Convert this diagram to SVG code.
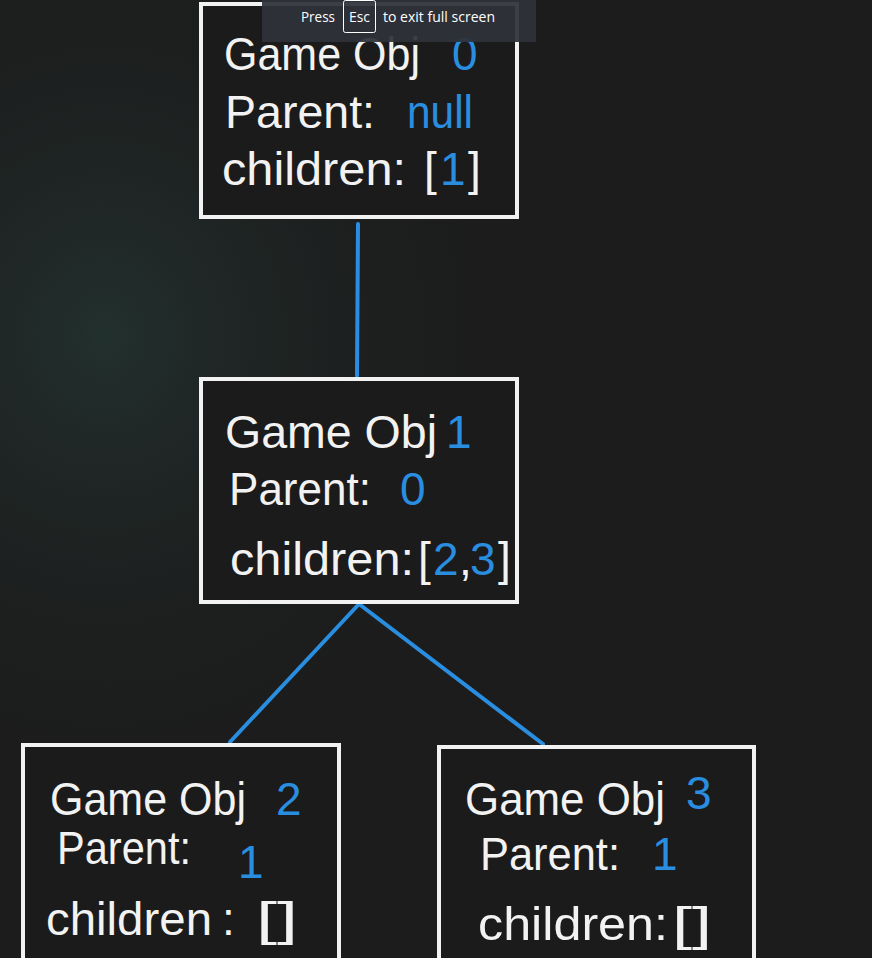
<svg xmlns="http://www.w3.org/2000/svg" width="872" height="958" viewBox="0 0 872 958">
<defs>
<radialGradient id="glow" cx="0.12" cy="0.35" r="0.5">
<stop offset="0" stop-color="#22302e"/>
<stop offset="1" stop-color="#1c1c1c" stop-opacity="0"/>
</radialGradient>
<style>
.box{fill:#1b1b1b;stroke:#f2f2f2;stroke-width:4}
.t{font-family:"Liberation Sans","Open Sans",sans-serif;fill:#f2f2f2;font-size:46px}
.b{fill:#2a8ee0}
.lk{stroke:#2a8ee0;stroke-width:4;fill:none;stroke-linecap:round}
.ov{font-family:"Segoe UI","Open Sans",sans-serif;font-size:15px;fill:#ffffff}
</style>
</defs>
<rect width="872" height="958" fill="#1c1c1c"/>
<rect width="872" height="958" fill="url(#glow)"/>
<g id="connectors">
<line class="lk" x1="358" y1="224" x2="357" y2="376"/>
<line class="lk" x1="359" y1="604" x2="230" y2="742"/>
<line class="lk" x1="359" y1="604" x2="543" y2="744"/>
</g>
<g id="node0">
<rect class="box" x="201" y="4" width="316" height="213"/>
<text class="t" y="70"><tspan x="224" textLength="196" lengthAdjust="spacingAndGlyphs">Game Obj</tspan><tspan class="b" x="452">0</tspan></text>
<text class="t" y="128"><tspan x="225" textLength="150" lengthAdjust="spacingAndGlyphs">Parent:</tspan><tspan class="b" x="407" textLength="66" lengthAdjust="spacingAndGlyphs">null</tspan></text>
<text class="t" y="185"><tspan x="222" textLength="184" lengthAdjust="spacingAndGlyphs">children:</tspan><tspan x="424">[</tspan><tspan class="b" x="440">1</tspan><tspan x="468">]</tspan></text>
</g>
<g id="node1">
<rect class="box" x="201" y="379" width="316" height="223"/>
<text class="t" y="448"><tspan x="225" textLength="212" lengthAdjust="spacingAndGlyphs">Game Obj</tspan><tspan class="b" x="446">1</tspan></text>
<text class="t" y="505"><tspan x="229" textLength="142" lengthAdjust="spacingAndGlyphs">Parent:</tspan><tspan class="b" x="400">0</tspan></text>
<text class="t" y="575"><tspan x="230" textLength="184" lengthAdjust="spacingAndGlyphs">children:</tspan><tspan x="418">[</tspan><tspan class="b" x="433">2</tspan><tspan x="459">,</tspan><tspan class="b" x="470">3</tspan><tspan x="498">]</tspan></text>
</g>
<g id="node2">
<rect class="box" x="23" y="745" width="316" height="230"/>
<text class="t" y="815"><tspan x="50" textLength="196" lengthAdjust="spacingAndGlyphs">Game Obj</tspan><tspan class="b" x="276">2</tspan></text>
<text class="t" y="864" font-size="42"><tspan x="57" textLength="134" lengthAdjust="spacingAndGlyphs">Parent:</tspan></text>
<text class="t b" x="238" y="878">1</text>
<text class="t" y="935"><tspan x="46" textLength="166" lengthAdjust="spacingAndGlyphs">children</tspan><tspan x="222">:</tspan><tspan x="256" textLength="42" lengthAdjust="spacingAndGlyphs">[]</tspan></text>
</g>
<g id="node3">
<rect class="box" x="439" y="747" width="315" height="230"/>
<text class="t" y="815"><tspan x="465" textLength="200" lengthAdjust="spacingAndGlyphs">Game Obj</tspan><tspan class="b" x="686" dy="-6">3</tspan></text>
<text class="t" y="870"><tspan x="480" textLength="140" lengthAdjust="spacingAndGlyphs">Parent:</tspan><tspan class="b" x="652">1</tspan></text>
<text class="t" y="940"><tspan x="478" textLength="190" lengthAdjust="spacingAndGlyphs">children:</tspan><tspan x="672" textLength="40" lengthAdjust="spacingAndGlyphs">[]</tspan></text>
</g>
<g id="overlay">
<rect x="262" y="0" width="274" height="42" fill="#2e3239" fill-opacity="0.93"/>
<text class="ov" x="301" y="22" textLength="34" lengthAdjust="spacingAndGlyphs">Press</text>
<rect x="343.5" y="0.5" width="32" height="32" rx="2" fill="none" stroke="#ffffff" stroke-width="1"/>
<text class="ov" x="349" y="22" textLength="21" lengthAdjust="spacingAndGlyphs">Esc</text>
<text class="ov" x="383" y="22" textLength="112" lengthAdjust="spacingAndGlyphs">to exit full screen</text>
</g>
</svg>
